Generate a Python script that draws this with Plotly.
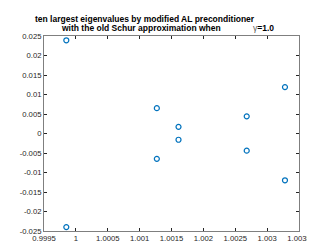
import plotly.graph_objects as go

# eigenvalues (real, imag)
re_vals = [0.99985, 0.99985, 1.00127, 1.00127, 1.00161, 1.00161, 1.00268, 1.00268, 1.00328, 1.00328]
im_vals = [0.0239, -0.0240, 0.0065, -0.0065, 0.0017, -0.0016, 0.0044, -0.0044, 0.0119, -0.0120]

x_ticks = [0.9995, 1.0, 1.0005, 1.001, 1.0015, 1.002, 1.0025, 1.003, 1.0035]
x_labels = ["0.9995", "1", "1.0005", "1.001", "1.0015", "1.002", "1.0025", "1.003", "1.0035"]
y_ticks = [0.025, 0.02, 0.015, 0.01, 0.005, 0, -0.005, -0.01, -0.015, -0.02, -0.025]
y_labels = ["0.025", "0.02", "0.015", "0.01", "0.005", "0", "-0.005", "-0.01", "-0.015", "-0.02", "-0.025"]

fig = go.Figure()
fig.add_trace(go.Scatter(
    x=re_vals, y=im_vals, mode="markers",
    marker=dict(symbol="circle-open", size=5, color="#0072BD", line=dict(width=1.2, color="#0072BD")),
    showlegend=False, hoverinfo="skip"))

axis_common = dict(showgrid=False, zeroline=False, showline=True, linecolor="#7f7f7f", linewidth=1,
                   mirror="ticks", ticks="inside", ticklen=3, tickwidth=1, tickcolor="#262626",
                   tickfont=dict(family="Liberation Sans, Arial, sans-serif", size=7.7, color="#262626"))

fig.update_xaxes(range=[0.9995, 1.0035], tickvals=x_ticks, ticktext=x_labels, **axis_common)
fig.update_yaxes(range=[-0.025, 0.025], tickvals=y_ticks, ticktext=y_labels, **axis_common)

tfont = dict(family="Liberation Sans, Arial, sans-serif", size=8.5, color="#000000")
fig.add_annotation(text="<b>ten largest eigenvalues by modified AL preconditioner</b>",
                   xref="paper", yref="paper", x=0.397, y=1.087, xanchor="center", yanchor="middle",
                   showarrow=False, font=tfont)
fig.add_annotation(text="<b>with the old Schur approximation when</b>",
                   xref="paper", yref="paper", x=0.382, y=1.039, xanchor="center", yanchor="middle",
                   showarrow=False, font=tfont)
fig.add_annotation(text="<span style='color:#555555;font-weight:normal'>γ</span><b>=1.0</b>",
                   xref="paper", yref="paper", x=0.86, y=1.039, xanchor="center", yanchor="middle",
                   showarrow=False, font=tfont)

fig.update_layout(width=315, height=247, margin=dict(l=36, r=12, t=28, b=13),
                  paper_bgcolor="white", plot_bgcolor="white")

fig.write_html("out.html")
